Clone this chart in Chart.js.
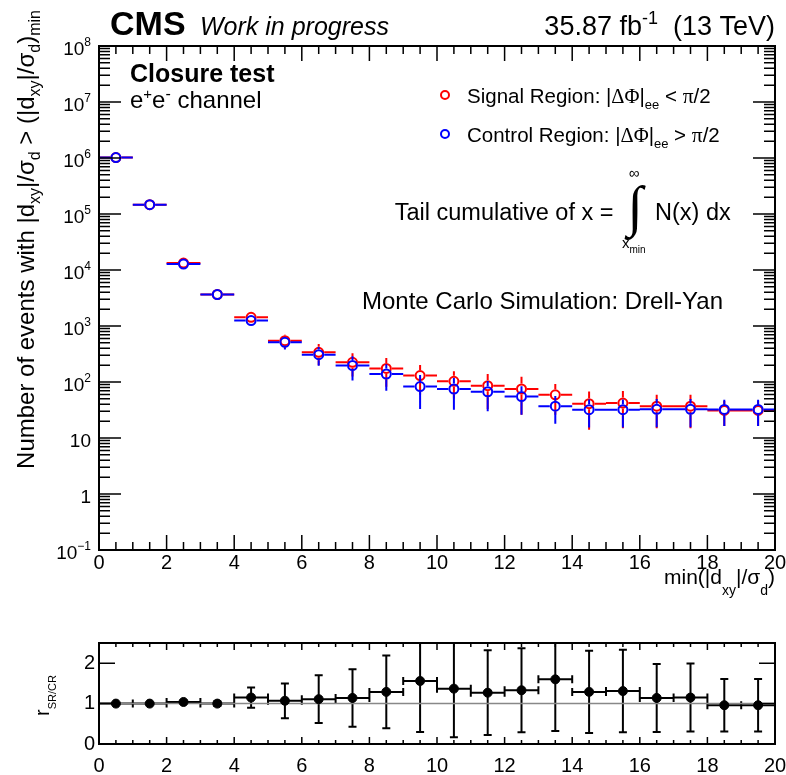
<!DOCTYPE html>
<html>
<head>
<meta charset="utf-8">
<title>Closure test: tail cumulative of min(|dxy|/sigma_d)</title>
<script src="https://cdn.jsdelivr.net/npm/chart.js@4.4.1/dist/chart.umd.min.js"></script>
<style>
  html, body { margin: 0; padding: 0; background: #fff; }
  #figure { position: relative; width: 786px; height: 775px; overflow: hidden; }
  #figure canvas { position: absolute; left: 0; }
  #mainPanel { top: 0; }
  #ratioPanel { top: 620px; }
</style>
</head>
<body>
<div id="figure">
  <canvas id="mainPanel" width="786" height="620" style="width:786px;height:620px"></canvas>
  <canvas id="ratioPanel" width="786" height="155" style="width:786px;height:155px"></canvas>
</div>
<script>
const SANS = '"Liberation Sans", Arial, Helvetica, sans-serif';
const SERIF = '"Liberation Serif", "Times New Roman", serif';

// Bins of min(|dxy|/sigma_d), unit width
const binCenters = [0.5, 1.5, 2.5, 3.5, 4.5, 5.5, 6.5, 7.5, 8.5, 9.5,
                    10.5, 11.5, 12.5, 13.5, 14.5, 15.5, 16.5, 17.5, 18.5, 19.5];
const binHalfWidth = 0.5;

// Tail-cumulative event counts, signal region |dPhi| < pi/2
const signalCounts = [1.02e6, 1.47e5, 1.33e4, 3650, 1430, 548, 339, 225, 175, 130,
                      103, 86, 75, 59, 41, 42, 37, 37, 31, 31];
const signalErrors = [5000, 1500, 300, 120, 70, 150, 139, 100, 93, 71,
                      52, 53, 49, 33, 27, 27, 22, 22, 14.6, 14.6];

// Tail-cumulative event counts, control region |dPhi| > pi/2
const controlCounts = [1.02e6, 1.47e5, 1.28e4, 3650, 1250, 512, 308, 197, 139, 83,
                       75, 67, 55, 37, 32, 32, 32.5, 32.5, 32.3, 32.3];
const controlErrors = [5000, 1500, 300, 120, 70, 130, 113, 91, 69, 50,
                       43, 37, 29, 19, 16.6, 16.6, 17, 17, 16, 16];

// Ratio SR / CR
const ratioValues = [1.0, 1.0, 1.04, 1.0, 1.15, 1.07, 1.11, 1.14, 1.29, 1.56,
                     1.37, 1.27, 1.33, 1.60, 1.29, 1.31, 1.14, 1.15, 0.96, 0.96];
const ratioErrors = [0.01, 0.02, 0.03, 0.06, 0.25, 0.43, 0.59, 0.71, 0.90, 1.26,
                     1.20, 1.05, 1.04, 1.28, 1.02, 1.02, 0.84, 0.84, 0.65, 0.65];

// Axis ticks
const xTickValues = [0, 2, 4, 6, 8, 10, 12, 14, 16, 18, 20];
const yDecadeExponents = [-1, 0, 1, 2, 3, 4, 5, 6, 7, 8];
const ratioTickValues = [0, 1, 2];

Chart.defaults.font.family = SANS;
Chart.defaults.color = '#000';

function part(text, size, extra) { return Object.assign({ text: text, size: size }, extra || {}); }

// Draws a run of text pieces (sub/superscripts via dy) on one baseline
function drawRich(ctx, parts, x, y, opts) {
  const o = opts || {};
  ctx.save();
  ctx.translate(x, y);
  if (o.angle) ctx.rotate(o.angle);
  ctx.fillStyle = o.color || '#000';
  ctx.textBaseline = 'alphabetic';
  ctx.textAlign = 'left';
  const fonts = parts.map(p => `${p.style || 'normal'} ${p.weight || 'normal'} ${p.size}px ${p.family || SANS}`);
  const widths = parts.map((p, i) => { ctx.font = fonts[i]; return ctx.measureText(p.text).width; });
  const total = widths.reduce((s, w) => s + w, 0);
  let cx = o.align === 'right' ? -total : o.align === 'center' ? -total / 2 : 0;
  parts.forEach((p, i) => { ctx.font = fonts[i]; ctx.fillText(p.text, cx, p.dy || 0); cx += widths[i]; });
  ctx.restore();
}

function seg(ctx, x1, y1, x2, y2) { ctx.moveTo(x1, y1); ctx.lineTo(x2, y2); }

function drawFrame(ctx, a) {
  ctx.save();
  ctx.strokeStyle = '#000';
  ctx.lineWidth = 2;
  ctx.strokeRect(a.left, a.top, a.right - a.left, a.bottom - a.top);
  ctx.restore();
}

// Inward ticks on bottom and top edges, major at the scale ticks, minor subdivisions between
function drawXTicks(ctx, scale, a, majorLen, minorLen, subdivisions) {
  const majors = scale.ticks.map(t => t.value);
  ctx.save();
  ctx.strokeStyle = '#000';
  ctx.lineWidth = 1.5;
  ctx.beginPath();
  majors.forEach((v, i) => {
    const px = scale.getPixelForValue(v);
    seg(ctx, px, a.bottom, px, a.bottom - majorLen);
    seg(ctx, px, a.top, px, a.top + majorLen);
    if (i < majors.length - 1) {
      const step = (majors[i + 1] - v) / subdivisions;
      for (let k = 1; k < subdivisions; k++) {
        const m = scale.getPixelForValue(v + k * step);
        seg(ctx, m, a.bottom, m, a.bottom - minorLen);
        seg(ctx, m, a.top, m, a.top + minorLen);
      }
    }
  });
  ctx.stroke();
  ctx.restore();
}

// Error bars for one dataset, drawn before its markers
function drawErrorBars(chart, ds, gap, capHalf) {
  const ctx = chart.ctx, a = chart.chartArea, x = chart.scales.x, y = chart.scales.y;
  ctx.save();
  ctx.beginPath();
  ctx.rect(a.left, a.top, a.right - a.left, a.bottom - a.top);
  ctx.clip();
  ctx.strokeStyle = ds.borderColor;
  ctx.lineWidth = 2;
  ctx.beginPath();
  ds.data.forEach((p, i) => {
    const e = ds.errors[i];
    const px = x.getPixelForValue(p.x), py = y.getPixelForValue(p.y);
    const xl = x.getPixelForValue(p.x - binHalfWidth), xr = x.getPixelForValue(p.x + binHalfWidth);
    const yt = y.getPixelForValue(p.y + e);
    const lo = p.y - e;
    const yb = (y.type === 'logarithmic' && lo <= 0) ? a.bottom + 20 : y.getPixelForValue(lo);
    if (px - gap > xl) { seg(ctx, xl, py, px - gap, py); seg(ctx, px + gap, py, xr, py); }
    if (yt < py - gap) seg(ctx, px, yt, px, py - gap);
    if (yb > py + gap) seg(ctx, px, py + gap, px, yb);
    if (capHalf) {
      seg(ctx, xl, py - capHalf, xl, py + capHalf);
      seg(ctx, xr, py - capHalf, xr, py + capHalf);
      seg(ctx, px - capHalf, yt, px + capHalf, yt);
      seg(ctx, px - capHalf, yb, px + capHalf, yb);
    }
  });
  ctx.stroke();
  ctx.restore();
}

const mainPanelDecor = {
  id: 'mainPanelDecor',
  beforeDatasetDraw(chart, args) {
    drawErrorBars(chart, chart.data.datasets[args.index], 5.5, 0);
  },
  afterDraw(chart) {
    const ctx = chart.ctx, a = chart.chartArea, x = chart.scales.x, y = chart.scales.y;
    drawFrame(ctx, a);
    drawXTicks(ctx, x, a, 15, 8, 4);

    // logarithmic y ticks, left and right
    ctx.save();
    ctx.strokeStyle = '#000';
    ctx.lineWidth = 1.5;
    ctx.beginPath();
    yDecadeExponents.forEach(e => {
      const base = Math.pow(10, e);
      for (let k = 1; k <= 9; k++) {
        const v = k * base;
        if (v > y.max * 1.0001) break;
        const py = y.getPixelForValue(v);
        const len = k === 1 ? 22 : 11;
        seg(ctx, a.left, py, a.left + len, py);
        seg(ctx, a.right, py, a.right - len, py);
      }
    });
    ctx.stroke();
    ctx.restore();

    // decade labels
    yDecadeExponents.forEach(e => {
      const py = y.getPixelForValue(Math.pow(10, e));
      let parts;
      if (e === 0) parts = [part('1', 19)];
      else if (e === 1) parts = [part('10', 19)];
      else parts = [part('10', 19), part(e < 0 ? '\u2212' + (-e) : String(e), 12, { dy: -9 })];
      drawRich(ctx, parts, a.left - 8, py + 9, { align: 'right' });
    });

    // axis titles
    drawRich(ctx, [
      part('min(|d', 21), part('xy', 14, { dy: 11 }), part('|/', 21),
      part('\u03c3', 21), part('d', 14, { dy: 11 }), part(')', 21)
    ], a.right, 584, { align: 'right' });

    drawRich(ctx, [
      part('Number of events with |d', 24), part('xy', 16, { dy: 6 }), part('|/', 24),
      part('\u03c3', 24), part('d', 16, { dy: 6 }), part(' > (|d', 24), part('xy', 16, { dy: 6 }),
      part('|/', 24), part('\u03c3', 24), part('d', 16, { dy: 6 }), part(')', 24), part('min', 16, { dy: 6 })
    ], 34, 10, { align: 'right', angle: -Math.PI / 2 });

    // header
    drawRich(ctx, [part('CMS', 34, { weight: 'bold' })], 110, 35);
    drawRich(ctx, [part('Work in progress', 25, { style: 'italic' })], 200, 35);
    drawRich(ctx, [part('35.87 fb', 27), part('-1', 18, { dy: -11 }), part('  (13 TeV)', 27)], 775, 35, { align: 'right' });

    // labels inside the frame
    drawRich(ctx, [part('Closure test', 25, { weight: 'bold' })], 130, 82);
    drawRich(ctx, [part('e', 24), part('+', 15, { dy: -9 }), part('e', 24), part('-', 16, { dy: -9 }), part(' channel', 24)], 130, 108);

    // legend
    const legendRows = [
      { y: 95, tail: ' < ' },
      { y: 134, tail: ' > ' }
    ];
    const legendNames = ['Signal Region: |', 'Control Region: |'];
    chart.data.datasets.forEach((ds, i) => {
      const row = legendRows[i];
      ctx.save();
      ctx.strokeStyle = ds.borderColor;
      ctx.lineWidth = 2;
      ctx.beginPath();
      ctx.arc(445, row.y, 4, 0, Math.PI * 2);
      ctx.stroke();
      ctx.restore();
      drawRich(ctx, [
        part(legendNames[i], 20.5), part('\u0394\u03a6', 20.5, { family: SERIF }), part('|', 20.5),
        part('ee', 13, { dy: 6 }), part(row.tail, 20.5), part('\u03c0', 21.5, { family: SERIF }), part('/2', 20.5)
      ], 467, row.y + 8);
    });

    // tail cumulative definition
    drawRich(ctx, [part('Tail cumulative of x = ', 23.5)], 620, 220, { align: 'right' });
    ctx.save();
    ctx.fillStyle = '#000';
    ctx.font = `56px ${SERIF}`;
    ctx.textAlign = 'center';
    ctx.textBaseline = 'middle';
    ctx.fillText('\u222b', 635, 210);
    ctx.restore();
    drawRich(ctx, [part('\u221e', 15)], 634, 178, { align: 'center' });
    drawRich(ctx, [part('x', 15), part('min', 10, { dy: 5 })], 622, 248);
    drawRich(ctx, [part('N(x) dx', 23.5)], 655, 220);

    drawRich(ctx, [part('Monte Carlo Simulation: Drell-Yan', 24)], 362, 309);
  }
};

new Chart(document.getElementById('mainPanel'), {
  type: 'scatter',
  data: {
    datasets: [
      {
        label: 'Signal Region',
        data: binCenters.map((v, i) => ({ x: v, y: signalCounts[i] })),
        errors: signalErrors,
        borderColor: '#ff0000',
        backgroundColor: 'rgba(0,0,0,0)',
        pointRadius: 4.5,
        pointBorderWidth: 2,
        order: 1
      },
      {
        label: 'Control Region',
        data: binCenters.map((v, i) => ({ x: v, y: controlCounts[i] })),
        errors: controlErrors,
        borderColor: '#0000ff',
        backgroundColor: 'rgba(0,0,0,0)',
        pointRadius: 4.5,
        pointBorderWidth: 2,
        order: 0
      }
    ]
  },
  options: {
    responsive: false,
    animation: false,
    devicePixelRatio: 1,
    events: [],
    layout: { padding: { top: 46, right: 11, left: 0, bottom: 0 } },
    plugins: { legend: { display: false }, tooltip: { enabled: false } },
    scales: {
      x: {
        type: 'linear', min: 0, max: 20,
        afterBuildTicks: s => { s.ticks = xTickValues.map(v => ({ value: v })); },
        ticks: { font: { size: 20 }, padding: 1, maxRotation: 0, autoSkip: false },
        grid: { display: false, drawTicks: false },
        border: { display: false },
        afterFit: s => { s.height = 70; s.paddingLeft = 0; s.paddingRight = 0; }
      },
      y: {
        type: 'logarithmic', min: 0.1, max: 1e8,
        ticks: { display: false },
        grid: { display: false, drawTicks: false },
        border: { display: false },
        afterFit: s => { s.width = 99; s.paddingTop = 0; s.paddingBottom = 0; }
      }
    }
  },
  plugins: [mainPanelDecor]
});

const ratioPanelDecor = {
  id: 'ratioPanelDecor',
  beforeDatasetDraw(chart, args) {
    const ds = chart.data.datasets[args.index];
    drawErrorBars(chart, ds, 0, 4);
    // unity reference line
    const ctx = chart.ctx, a = chart.chartArea, py = chart.scales.y.getPixelForValue(1);
    ctx.save();
    ctx.strokeStyle = '#888888';
    ctx.lineWidth = 1.5;
    ctx.beginPath();
    seg(ctx, a.left, py, a.right, py);
    ctx.stroke();
    ctx.restore();
  },
  afterDraw(chart) {
    const ctx = chart.ctx, a = chart.chartArea, x = chart.scales.x, y = chart.scales.y;
    drawFrame(ctx, a);
    drawXTicks(ctx, x, a, 7, 4, 4);
    ctx.save();
    ctx.strokeStyle = '#000';
    ctx.lineWidth = 1.5;
    ctx.beginPath();
    ratioTickValues.forEach(v => {
      const py = y.getPixelForValue(v);
      seg(ctx, a.left, py, a.left + 16, py);
      seg(ctx, a.right, py, a.right - 16, py);
    });
    ctx.stroke();
    ctx.restore();
    drawRich(ctx, [part('r', 20), part('SR/CR', 11, { dy: 7 })], 49, 96, { angle: -Math.PI / 2 });
  }
};

new Chart(document.getElementById('ratioPanel'), {
  type: 'scatter',
  data: {
    datasets: [{
      label: 'SR / CR',
      data: binCenters.map((v, i) => ({ x: v, y: ratioValues[i] })),
      errors: ratioErrors,
      borderColor: '#000000',
      backgroundColor: '#000000',
      pointRadius: 4.5,
      pointBorderWidth: 1
    }]
  },
  options: {
    responsive: false,
    animation: false,
    devicePixelRatio: 1,
    events: [],
    layout: { padding: { top: 23, right: 11, left: 0, bottom: 0 } },
    plugins: { legend: { display: false }, tooltip: { enabled: false } },
    scales: {
      x: {
        type: 'linear', min: 0, max: 20,
        afterBuildTicks: s => { s.ticks = xTickValues.map(v => ({ value: v })); },
        ticks: { font: { size: 20 }, padding: 10, maxRotation: 0, autoSkip: false },
        grid: { display: false, drawTicks: false },
        border: { display: false },
        afterFit: s => { s.height = 31; s.paddingLeft = 0; s.paddingRight = 0; }
      },
      y: {
        type: 'linear', min: 0, max: 2.5,
        afterBuildTicks: s => { s.ticks = ratioTickValues.map(v => ({ value: v })); },
        ticks: { font: { size: 20 }, padding: 4 },
        grid: { display: false, drawTicks: false },
        border: { display: false },
        afterFit: s => { s.width = 99; s.paddingTop = 0; s.paddingBottom = 0; }
      }
    }
  },
  plugins: [ratioPanelDecor]
});
</script>
</body>
</html>
